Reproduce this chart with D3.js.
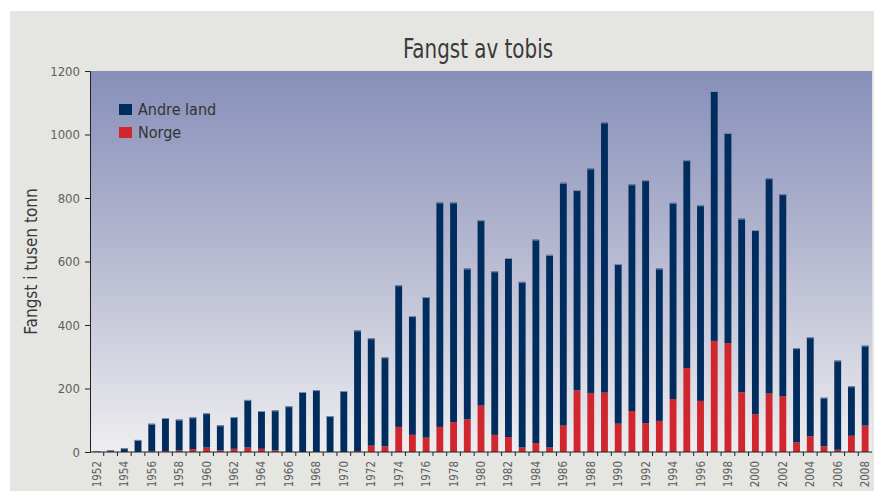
<!DOCTYPE html>
<html>
<head>
<meta charset="utf-8">
<script src="https://cdnjs.cloudflare.com/ajax/libs/d3/7.8.5/d3.min.js"></script>
<style>
  body { margin: 0; background: #fff; }
  text { font-family: "Liberation Sans Narrow", "DejaVu Sans Condensed", sans-serif; }
</style>
</head>
<body>
<div id="chart"></div>
<script>
// data (tusen tonn)
var years = d3.range(1952, 2009);
var norge = [0, 0, 0, 0, 2, 3, 5, 9, 14, 5, 10, 14, 10, 5, 0, 0, 0, 0, 0, 3,
    20, 18, 79, 54, 45, 79, 94, 103, 146, 54, 47, 14, 28, 14, 83, 194, 186, 187, 89, 129,
    91, 98, 167, 264, 161, 350, 343, 188, 119, 184, 176, 30, 49, 18, 7, 51, 83];
var andreLand = [3, 5, 12, 38, 87, 104, 97, 100, 108, 79, 100, 150, 119, 126, 144, 189, 195, 113, 192, 380,
    338, 280, 446, 374, 443, 707, 692, 475, 584, 515, 564, 522, 641, 607, 765, 631, 707, 851, 503, 714,
    765, 480, 618, 655, 616, 787, 662, 547, 580, 678, 636, 297, 312, 153, 281, 156, 252];
var yTicks = [0, 200, 400, 600, 800, 1000, 1200];
var seriesNames = ["Norge", "Andre land"];

var W = 874, H = 493;
var margin = { top: 71, right: 2, bottom: 41, left: 90 },
    width = W - margin.left - margin.right,
    height = H - margin.top - margin.bottom;

var color = d3.scaleOrdinal().domain(seriesNames).range(["#d0272f", "#002c5e"]);

var rows = years.map(function (y, i) {
    return { year: y, "Norge": norge[i], "Andre land": andreLand[i] };
});
var stacked = d3.stack().keys(seriesNames)(rows);

var x = d3.scaleBand().domain(years).range([0, width]).paddingInner(0.5).paddingOuter(0.25);
var y = d3.scaleLinear().domain([0, 1200]).range([height, 0]);

var svgRoot = d3.select("#chart").append("svg")
    .attr("width", W)
    .attr("height", H);

// grey panel
svgRoot.append("rect")
    .attr("x", 10).attr("y", 11)
    .attr("width", W - 10).attr("height", 480)
    .attr("fill", "#e5e5e1");

var defs = svgRoot.append("defs");
var grad = defs.append("linearGradient")
    .attr("id", "bg").attr("x1", 0).attr("y1", 0).attr("x2", 0).attr("y2", 1);
grad.append("stop").attr("offset", "0%").attr("stop-color", "#878fb9");
grad.append("stop").attr("offset", "45%").attr("stop-color", "#b3b6cf");
grad.append("stop").attr("offset", "100%").attr("stop-color", "#eeeef0");

var svg = svgRoot.append("g")
    .attr("transform", "translate(" + margin.left + "," + margin.top + ")");

svg.append("rect")
    .attr("width", width)
    .attr("height", height)
    .attr("fill", "url(#bg)");

// title (narrowed to look like the condensed original)
svgRoot.append("text")
    .attr("transform", "translate(" + (margin.left + width / 2 - 3) + ",58) scale(0.82,1)")
    .attr("text-anchor", "middle")
    .attr("font-size", 27)
    .attr("fill", "#3a3a3a")
    .text("Fangst av tobis");

// bars
svg.selectAll("g.layer")
    .data(stacked)
    .enter()
    .append("g")
    .attr("class", "layer")
    .attr("fill", function (d) { return color(d.key); })
    .selectAll("rect")
    .data(function (d) { return d; })
    .enter()
    .append("rect")
    .attr("x", function (d) { return x(d.data.year); })
    .attr("y", function (d) { return y(d[1]); })
    .attr("width", x.bandwidth())
    .attr("height", function (d) { return y(d[0]) - y(d[1]); });

// light top edge on the bars
svg.selectAll("line.cap")
    .data(rows)
    .enter()
    .append("line")
    .attr("class", "cap")
    .attr("x1", function (d) { return x(d.year); })
    .attr("x2", function (d) { return x(d.year) + x.bandwidth(); })
    .attr("y1", function (d) { return y(d["Norge"] + d["Andre land"]) + 0.5; })
    .attr("y2", function (d) { return y(d["Norge"] + d["Andre land"]) + 0.5; })
    .attr("stroke", "#7f8fb0")
    .attr("stroke-width", 1);

// y axis
var yAxis = svg.append("g")
    .call(d3.axisLeft(y).tickValues(yTicks).tickFormat(d3.format("d")).tickSize(5).tickPadding(5));
yAxis.selectAll("text").attr("font-size", 13).attr("fill", "#606060");
yAxis.selectAll("line, path").attr("stroke", "#222");

// x axis: ticks on band edges, labels on even years
var edges = years.map(function (yr) { return x(yr) - x.step() * 0.25; });
var xAxis = svg.append("g").attr("transform", "translate(0," + height + ")");
xAxis.append("line")
    .attr("x1", 0).attr("x2", width)
    .attr("stroke", "#222");
xAxis.selectAll("line.tick")
    .data(edges.slice(1))
    .enter()
    .append("line")
    .attr("class", "tick")
    .attr("x1", function (d) { return d; })
    .attr("x2", function (d) { return d; })
    .attr("y1", 0).attr("y2", 4)
    .attr("stroke", "#222");
xAxis.selectAll("text")
    .data(years.filter(function (yr) { return yr % 2 === 0; }))
    .enter()
    .append("text")
    .attr("transform", function (d) {
        return "translate(" + (x(d) + x.bandwidth() / 2 + 4) + ",9) rotate(-90)";
    })
    .attr("text-anchor", "end")
    .attr("font-size", 11.5)
    .attr("fill", "#606060")
    .text(function (d) { return d; });

// y label
svgRoot.append("text")
    .attr("transform", "translate(37," + (margin.top + height / 2) + ") rotate(-90)")
    .attr("text-anchor", "middle")
    .attr("font-size", 17)
    .attr("fill", "#3a3a3a")
    .text("Fangst i tusen tonn");

// legend
var legend = svg.append("g")
    .selectAll("g")
    .data(["Andre land", "Norge"])
    .enter()
    .append("g")
    .attr("transform", function (d, i) {
        return "translate(29," + (33 + i * 23) + ")";
    });
legend.append("rect")
    .attr("width", 13)
    .attr("height", 11)
    .attr("fill", color);
legend.append("text")
    .attr("x", 19)
    .attr("y", 11)
    .attr("font-size", 16)
    .attr("fill", "#333")
    .text(function (d) { return d; });
</script>
</body>
</html>
